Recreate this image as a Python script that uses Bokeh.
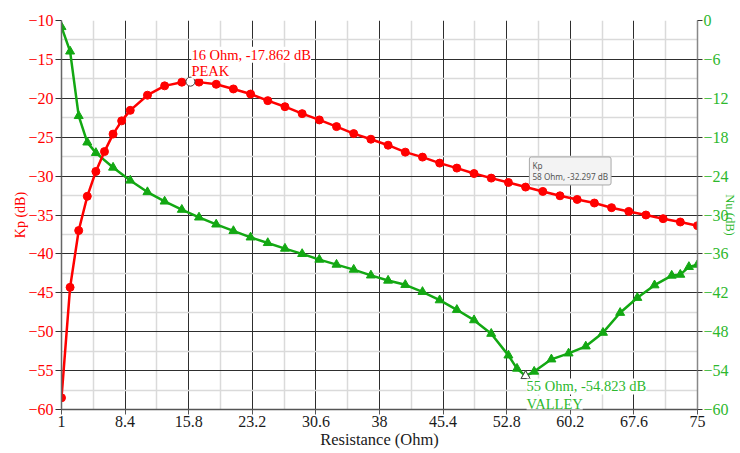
import math
from bokeh.plotting import figure
from bokeh.models import Range1d, LinearAxis, FixedTicker, Label
from bokeh.embed import file_html
from bokeh.resources import INLINE

# ---------------- data ----------------
x_ticks = [1, 8.4, 15.8, 23.2, 30.6, 38, 45.4, 52.8, 60.2, 67.6, 75]
x_tick_labels = ["1", "8.4", "15.8", "23.2", "30.6", "38", "45.4", "52.8", "60.2", "67.6", "75"]
kp_ticks = [-60, -55, -50, -45, -40, -35, -30, -25, -20, -15, -10]
nu_ticks = [-60, -54, -48, -42, -36, -30, -24, -18, -12, -6, 0]

kp_ohm = [1, 2, 3, 4, 5, 6, 7, 8, 9, 11, 13, 15, 16, 17, 19, 21, 23, 25, 27, 29, 31, 33,
          35, 37, 39, 41, 43, 45, 47, 49, 51, 53, 55, 57, 59, 61, 63, 65, 67, 69, 71, 73, 75]
kp_db = [-58.5, -44.3, -37.0, -32.6, -29.4, -26.85, -24.6, -22.9, -21.55, -19.6, -18.4,
         -17.93, -17.862, -17.92, -18.2, -18.8, -19.45, -20.3, -21.08, -21.97, -22.78,
         -23.64, -24.54, -25.26, -26.03, -26.92, -27.56, -28.33, -28.97, -29.67, -30.26,
         -30.82, -31.41, -31.97, -32.53, -33.0, -33.46, -34.06, -34.54, -35.0, -35.47,
         -35.9, -36.37]

nu_ohm = [1, 2, 3, 4, 5, 7, 9, 11, 13, 15, 17, 19, 21, 23, 25, 27, 29, 31, 33, 35, 37,
          39, 41, 43, 45, 47, 49, 51, 53, 54, 55, 56, 58, 60, 62, 64, 66, 68, 70, 72, 73,
          74, 75]
nu_db = [-1.0, -4.77, -14.72, -18.8, -20.42, -22.68, -24.68, -26.46, -27.91, -29.18,
         -30.37, -31.45, -32.46, -33.45, -34.31, -35.18, -36.0, -36.88, -37.65, -38.42,
         -39.31, -40.11, -40.77, -41.85, -43.14, -44.62, -46.22, -48.31, -51.65, -53.69,
         -54.823, -54.15, -52.26, -51.34, -50.26, -48.15, -45.08, -42.77, -40.83, -39.34,
         -39.2, -38.0, -37.65]

peak_ohm, peak_db = 16, -17.862
valley_ohm, valley_db = 55, -54.823
tip_ohm, tip_db = 58, -32.297

# ---------------- style ----------------
RED = "#ff0000"
GREEN = "#13a813"
GREEN_TXT = "#2db82d"
SERIF = "Liberation Serif"

p = figure(width=740, height=453, output_backend="svg", toolbar_location=None,
           x_range=Range1d(1, 75), y_range=Range1d(-60, -10),
           min_border_left=61, min_border_right=43, min_border_top=20,
           min_border_bottom=44, background_fill_color="white",
           border_fill_color="white")
p.outline_line_color = None
p.extra_y_ranges = {"nu": Range1d(-60, 0)}

x_minor = [(a + b) / 2 for a, b in zip(x_ticks[:-1], x_ticks[1:])]
y_minor = [(a + b) / 2 for a, b in zip(kp_ticks[:-1], kp_ticks[1:])]

# grids
p.xgrid.ticker = FixedTicker(ticks=x_ticks, minor_ticks=x_minor)
p.ygrid.ticker = FixedTicker(ticks=kp_ticks, minor_ticks=y_minor)
for g in (p.xgrid, p.ygrid):
    g.grid_line_color = "#2e2e2e"
    g.grid_line_width = 1
    g.minor_grid_line_color = "#dadada"
    g.minor_grid_line_width = 1.5

# bottom axis
xa = p.xaxis[0]
xa.ticker = FixedTicker(ticks=x_ticks)
xa.major_label_overrides = {t: s for t, s in zip(x_ticks, x_tick_labels)}
xa.axis_label = "Resistance (Ohm)"
xa.axis_label_text_font = SERIF
xa.axis_label_text_font_style = "normal"
xa.axis_label_text_font_size = "16.5px"
xa.axis_label_text_color = "#1a1a1a"
xa.axis_label_standoff = 0
xa.major_label_text_font = SERIF
xa.major_label_text_font_size = "16px"
xa.major_label_text_color = "#1a1a1a"
xa.major_label_standoff = 1
xa.axis_line_color = "#555555"
xa.axis_line_width = 1.5
xa.major_tick_line_color = "#555555"
xa.major_tick_in = 0
xa.major_tick_out = 5
xa.minor_tick_line_color = None

# left axis
ya = p.yaxis[0]
ya.ticker = FixedTicker(ticks=kp_ticks)
ya.axis_label = "Kp (dB)"
ya.axis_label_text_font = SERIF
ya.axis_label_text_font_style = "normal"
ya.axis_label_text_font_size = "14px"
ya.axis_label_text_color = RED
ya.axis_label_standoff = -3
ya.major_label_text_font = SERIF
ya.major_label_text_font_size = "16px"
ya.major_label_text_color = RED
ya.major_label_standoff = 2
ya.axis_line_color = "#666666"
ya.axis_line_width = 1.5
ya.major_tick_line_color = "#333333"
ya.major_tick_in = 0
ya.major_tick_out = 6
ya.minor_tick_line_color = None

# right axis
ra = LinearAxis(y_range_name="nu", ticker=FixedTicker(ticks=nu_ticks))
ra.axis_label = "Nu (dB)"
ra.axis_label_text_font = SERIF
ra.axis_label_text_font_style = "normal"
ra.axis_label_text_font_size = "12.5px"
ra.axis_label_text_color = GREEN_TXT
ra.axis_label_standoff = -9
ra.major_label_text_font = SERIF
ra.major_label_text_font_size = "16px"
ra.major_label_text_color = GREEN_TXT
ra.major_label_standoff = 1
ra.axis_line_color = "#888888"
ra.axis_line_width = 1.5
ra.major_tick_line_color = "#333333"
ra.major_tick_in = 0
ra.major_tick_out = 5
ra.minor_tick_line_color = None
p.add_layout(ra, "right")

# series
p.line(nu_ohm, nu_db, y_range_name="nu", line_color=GREEN, line_width=2.5)
p.scatter(nu_ohm, nu_db, y_range_name="nu", marker="triangle", size=9,
          fill_color=GREEN, line_color=GREEN)
p.line(kp_ohm, kp_db, line_color=RED, line_width=2.5)
p.scatter(kp_ohm, kp_db, marker="circle", size=8, fill_color=RED, line_color=RED)

# annotations (two text lines each, vertically centred on their offsets)
def note(x, y, lines, color, offsets, rng="default"):
    for line, off in zip(lines, offsets):
        p.add_layout(Label(x=x, y=y, y_range_name=rng, x_offset=1, y_offset=off,
                           text=line, text_font=SERIF, text_font_size="14.5px",
                           text_color=color, text_align="left",
                           text_baseline="middle",
                           background_fill_color="white"))

note(peak_ohm, peak_db, [f"{peak_ohm} Ohm, {peak_db} dB", "PEAK"], RED, [27, 11])
note(valley_ohm, valley_db, [f"{valley_ohm} Ohm, {valley_db} dB", "VALLEY"],
     GREEN_TXT, [-10.5, -28], rng="nu")

# highlighted points
p.scatter([peak_ohm], [peak_db], marker="circle", size=9, fill_color="white",
          line_color="#444444", line_width=1)
p.scatter([valley_ohm], [valley_db], y_range_name="nu", marker="triangle", size=9,
          fill_color="white", line_color="#444444", line_width=1)

p.add_layout(Label(x=tip_ohm, y=tip_db, x_offset=-22, y_offset=37,
                   text=f"Kp\n{tip_ohm} Ohm, {tip_db} dB",
                   text_font="Noto Sans", text_font_size="8.2px", text_color="#555555",
                   text_align="left", text_baseline="top",
                   background_fill_color="#f3f3f3", border_line_color="#a8a8a8",
                   border_line_width=1, padding=3, border_radius=2,
                   text_line_height=1.0))

open("out.html", "w").write(file_html(p, INLINE))
